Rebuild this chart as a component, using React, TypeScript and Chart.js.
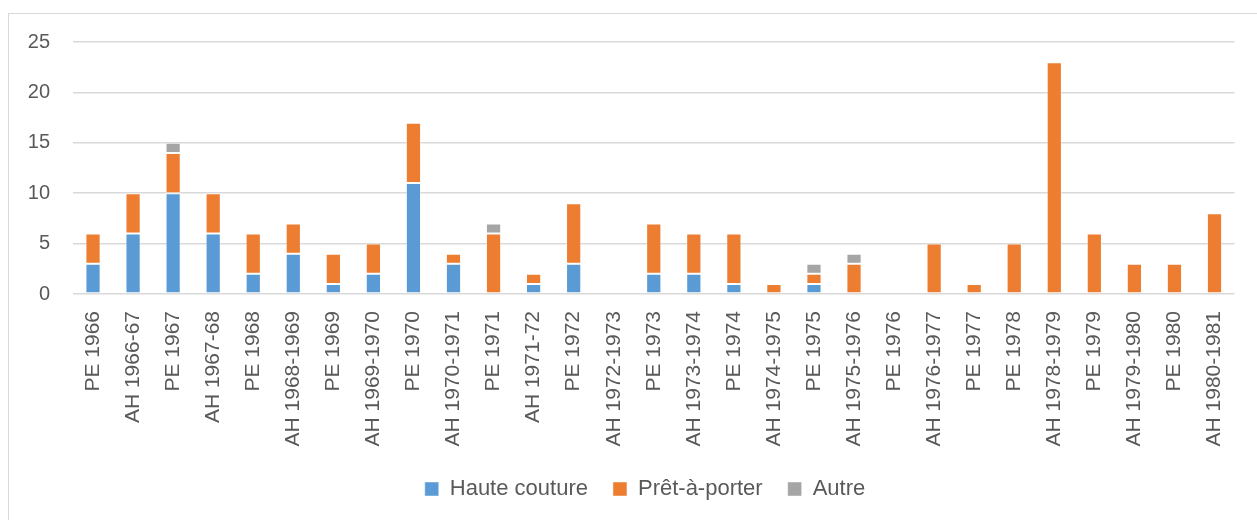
import React, { useEffect, useRef } from "react";
import { Chart, registerables } from "chart.js";

Chart.register(...registerables);

const categories = [
  "PE 1966", "AH 1966-67", "PE 1967", "AH 1967-68", "PE 1968", "AH 1968-1969",
  "PE 1969", "AH 1969-1970", "PE 1970", "AH 1970-1971", "PE 1971", "AH 1971-72",
  "PE 1972", "AH 1972-1973", "PE 1973", "AH 1973-1974", "PE 1974", "AH 1974-1975",
  "PE 1975", "AH 1975-1976", "PE 1976", "AH 1976-1977", "PE 1977", "PE 1978",
  "AH 1978-1979", "PE 1979", "AH 1979-1980", "PE 1980", "AH 1980-1981",
];

const hauteCouture = [3, 6, 10, 6, 2, 4, 1, 2, 11, 3, 0, 1, 3, 0, 2, 2, 1, 0, 1, 0, 0, 0, 0, 0, 0, 0, 0, 0, 0];
const pretAPorter = [3, 4, 4, 4, 4, 3, 3, 3, 6, 1, 6, 1, 6, 0, 5, 4, 5, 1, 1, 3, 0, 5, 1, 5, 23, 6, 3, 3, 8];
const autre = [0, 0, 1, 0, 0, 0, 0, 0, 0, 0, 1, 0, 0, 0, 0, 0, 0, 0, 1, 1, 0, 0, 0, 0, 0, 0, 0, 0, 0];

const seriesNames = ["Haute couture", "Prêt-à-porter", "Autre"];
const seriesColors = ["#5B9BD5", "#ED7D31", "#A5A5A5"];
const yMax = 25;
const yStep = 5;

const FONT = "'Liberation Sans', Arial, sans-serif";
const TEXT = "#595959";

const legendPlace = {
  id: "legendPlace",
  afterLayout(chart: any) {
    const l = chart.legend;
    if (!l) return;
    l.left = 0;
    l.right = 1290;
    l.top = 453;
  },
};

export default function App() {
  const ref = useRef<HTMLCanvasElement | null>(null);

  useEffect(() => {
    if (!ref.current) return;
    const toNull = (a: number[]) => a.map((v) => (v === 0 ? null : v));
    const chart = new Chart(ref.current, {
      type: "bar",
      data: {
        labels: categories,
        datasets: [hauteCouture, pretAPorter, autre].map((d, i) => ({
          label: seriesNames[i],
          data: toNull(d),
          backgroundColor: seriesColors[i],
          borderColor: "rgba(255,255,255,0.45)",
          borderWidth: 1,
          borderSkipped: false,
          categoryPercentage: 0.4,
          barPercentage: 0.95,
        })),
      },
      options: {
        responsive: false,
        animation: false,
        layout: { padding: { top: 42, left: 0, right: 17, bottom: 9 } },
        plugins: {
          tooltip: { enabled: false },
          legend: {
            position: "bottom",
            labels: {
              boxWidth: 14,
              boxHeight: 14,
              padding: 25,
              color: TEXT,
              font: { family: FONT, size: 22 },
            },
          },
        },
        scales: {
          x: {
            stacked: true,
            grid: { display: false, drawTicks: false },
            border: { display: false },
            ticks: {
              autoSkip: false,
              minRotation: 90,
              maxRotation: 90,
              padding: 17,
              color: TEXT,
              font: { family: FONT, size: 21 },
            },
            afterFit: (s: any) => {
              s.height = 160;
            },
          },
          y: {
            stacked: true,
            min: 0,
            max: yMax,
            grid: { color: "#d9d9d9", lineWidth: 1.5, drawTicks: false },
            border: { display: false },
            ticks: {
              stepSize: yStep,
              padding: 23,
              color: TEXT,
              font: { family: FONT, size: 20 },
            },
            afterFit: (s: any) => {
              s.width = 73;
            },
          },
        },
      },
      plugins: [legendPlace],
    });
    return () => chart.destroy();
  }, []);

  return (
    <div
      style={{
        position: "fixed",
        left: 0,
        top: 0,
        width: 1257,
        height: 520,
        overflow: "hidden",
        background: "#ffffff",
      }}
    >
      <div
        style={{
          position: "absolute",
          left: 8,
          top: 13,
          width: 1300,
          height: 600,
          border: "1px solid #d9d9d9",
        }}
      />
      <canvas
        ref={ref}
        width={1257}
        height={520}
        style={{ position: "absolute", left: 0, top: 0, width: 1257, height: 520 }}
      />
    </div>
  );
}
